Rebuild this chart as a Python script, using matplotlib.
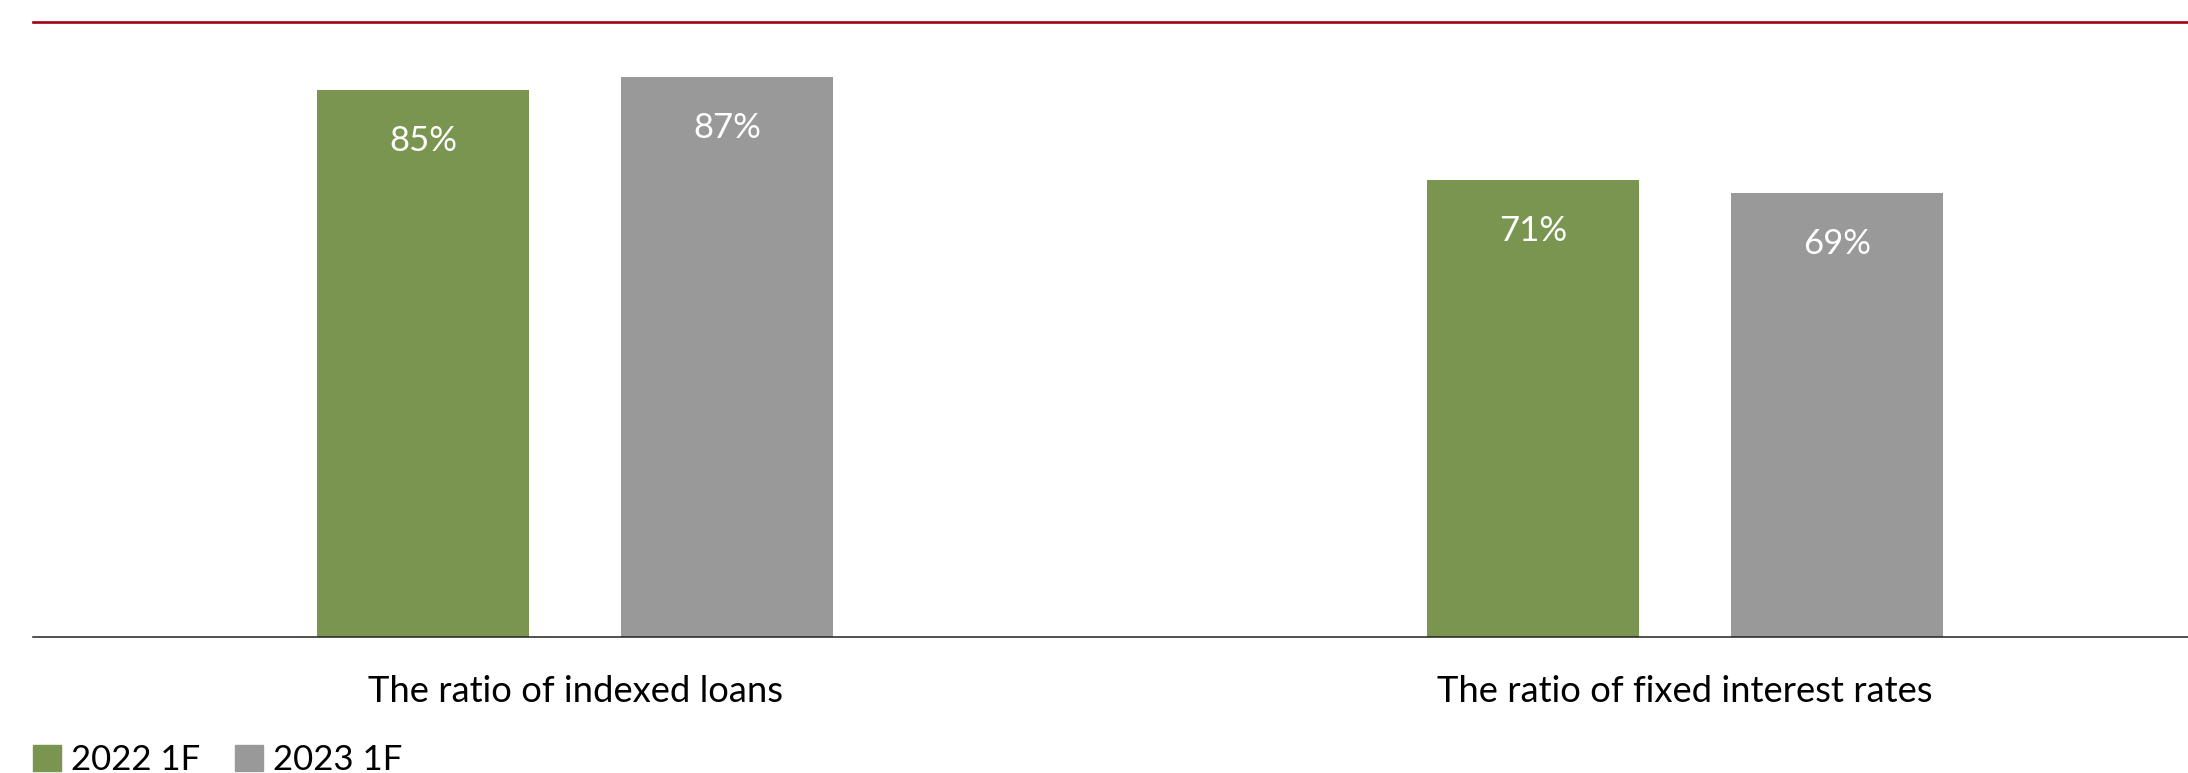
import matplotlib
matplotlib.use("Agg")
import matplotlib.pyplot as plt
import numpy as np
from matplotlib.patches import Patch

categories = ["The ratio of indexed loans", "The ratio of fixed interest rates"]
series_names = ["2022 1F", "2023 1F"]
values_2022 = [85, 71]
values_2023 = [87, 69]
colors = ["#7a9550", "#999999"]

plt.rcParams['font.family'] = ['Lato', 'DejaVu Sans']

W, H = 2188, 773
fig = plt.figure(figsize=(W / 100, H / 100), dpi=100)
left_px, right_px, top_px, bottom_px = 33, 2188, 22, 637
ax = fig.add_axes([left_px / W, 1 - bottom_px / H, (right_px - left_px) / W, (bottom_px - top_px) / H])

x = np.arange(len(categories))
width = 0.191
offset = 0.137
bars1 = ax.bar(x - offset, values_2022, width, color=colors[0], label=series_names[0])
bars2 = ax.bar(x + offset, values_2023, width, color=colors[1], label=series_names[1])

for bars, vals in ((bars1, values_2022), (bars2, values_2023)):
    for b, v in zip(bars, vals):
        ax.annotate(f"{v}%", (b.get_x() + b.get_width() / 2, v), xytext=(0, -35),
                    textcoords="offset pixels", ha="center", va="top",
                    color="white", fontsize=25)

ax.set_xlim(-(575 - left_px) / 1110, 1 + (right_px - 1685) / 1110)
ax.set_ylim(0, 95.6)
ax.set_yticks([])
ax.set_xticks(x)
ax.set_xticklabels(categories, fontsize=26.2)
ax.tick_params(axis="x", length=0, pad=27)

for s in ("left", "right"):
    ax.spines[s].set_visible(False)
ax.spines["top"].set_color("#a00010")
ax.spines["top"].set_linewidth(1.9)
ax.spines["bottom"].set_color("#222222")
ax.spines["bottom"].set_linewidth(1.1)

handles = [Patch(color=colors[0], label=series_names[0]), Patch(color=colors[1], label=series_names[1])]
leg = fig.legend(handles=handles, loc="lower left", bbox_to_anchor=(33 / W, -3 / H),
                 ncol=2, frameon=False, handlelength=0.8, handleheight=0.8,
                 handletextpad=0.3, columnspacing=1.0, borderpad=0, borderaxespad=0,
                 prop={"size": 25})

fig.savefig("out.png", dpi=100)
